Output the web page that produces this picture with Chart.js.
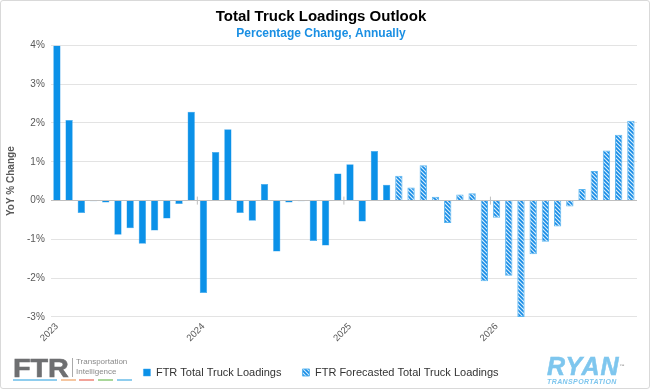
<!DOCTYPE html>
<html>
<head>
<meta charset="utf-8">
<script src="https://cdn.jsdelivr.net/npm/chart.js@4"></script>
<style>
  body { margin: 0; background: #fff; font-family: "Liberation Sans", Arial, sans-serif; }
  #wrap { position: relative; width: 648px; height: 387px; border: 1px solid #d9d9d9; border-radius: 3px; }
  #chart { position: absolute; left: 0; top: 0; }
  .ftr { position: absolute; left: 12px; top: 354px; }
  .ftr .big { position: absolute; left: 0; top: -1px; font: 900 25px "Liberation Sans", Arial, sans-serif; color: #6e6f71; transform: scaleX(1.15); transform-origin: left; -webkit-text-stroke: 0.6px #6e6f71; }
  .ftr .sep { position: absolute; left: 59px; top: 3px; width: 1px; height: 19px; background: #aaa; }
  .ftr .small { position: absolute; left: 63px; top: 2px; font: 8px "Liberation Sans", Arial, sans-serif; color: #8a8a8a; line-height: 10px; white-space: nowrap; }
  .ftr .bar { position: absolute; top: 24px; height: 2px; }
  .ryan { position: absolute; left: 546px; top: 353px; color: #7ec6ee; }
  .ryan .big { font: italic 900 25px "Liberation Sans", Arial, sans-serif; letter-spacing: 1px; line-height: 24px; -webkit-text-stroke: 0.5px #7ec6ee; }
  .ryan .small { font: italic bold 7px "Liberation Sans", Arial, sans-serif; letter-spacing: 0.4px; }
  .ryan sup { font-size: 5px; vertical-align: top; color: #999; -webkit-text-stroke: 0; }
</style>
</head>
<body>
<div id="wrap">
  <canvas id="chart" width="648" height="387"></canvas>
  <div class="ftr">
    <div class="big">FTR</div>
    <div class="sep"></div>
    <div class="small">Transportation<br>Intelligence</div>
    <div class="bar" style="left:0;width:44px;background:#8fcdee"></div>
    <div class="bar" style="left:48px;width:15px;background:#f5c6a0"></div>
    <div class="bar" style="left:66px;width:15px;background:#f2a39a"></div>
    <div class="bar" style="left:85px;width:15px;background:#a9d79a"></div>
    <div class="bar" style="left:104px;width:15px;background:#8fcdee"></div>
  </div>
  <div class="ryan">
    <div class="big">RYAN<sup>™</sup></div>
    <div class="small">TRANSPORTATION</div>
  </div>
</div>
<script>
// Data
const years = ['2023', '2024', '2025', '2026'];
const months = [];
years.forEach(y => { for (let m = 1; m <= 12; m++) months.push(y + '-' + m); });

const actual = [
  4.0, 2.08, -0.32, -0.02, -0.05, -0.88, -0.71, -1.11, -0.77, -0.46, -0.09, 2.29,
  -2.38, 1.25, 1.84, -0.32, -0.52, 0.43, -1.31, -0.05, -0.02, -1.04, -1.16, 0.70,
  0.94, -0.54, 1.28, 0.41
];
const forecast = [
  0.64, 0.34, 0.91, 0.10, -0.58, 0.16, 0.19, -2.08,
  -0.44, -1.94, -3.0, -1.38, -1.06, -0.67, -0.15, 0.30, 0.76, 1.29, 1.70, 2.06
];
const yTicks = [-3, -2, -1, 0, 1, 2, 3, 4];

const actualSeries = months.map((m, i) => i < actual.length ? actual[i] : null);
const forecastSeries = months.map((m, i) => i >= actual.length ? forecast[i - actual.length] : null);

// Hatch pattern for forecast bars
function hatch() {
  const c = document.createElement('canvas');
  c.width = 4; c.height = 4;
  const g = c.getContext('2d');
  g.fillStyle = '#d6ecfc';
  g.fillRect(0, 0, 4, 4);
  g.strokeStyle = '#168ce6';
  g.lineWidth = 1.6;
  g.beginPath();
  g.moveTo(-1, -1); g.lineTo(5, 5);
  g.moveTo(-1, 3); g.lineTo(1, 5);
  g.moveTo(3, -1); g.lineTo(5, 1);
  g.stroke();
  return g.createPattern(c, 'repeat');
}
const pattern = hatch();

// small tick marks on the zero line at year boundaries
const zeroTicks = {
  id: 'zeroTicks',
  afterDatasetsDraw(chart) {
    const { ctx, scales: { x, y } } = chart;
    const y0 = y.getPixelForValue(0);
    ctx.save();
    ctx.strokeStyle = '#bfbfbf';
    ctx.lineWidth = 1;
    for (let i = 12; i < months.length; i += 12) {
      const px = (x.getPixelForValue(i - 1) + x.getPixelForValue(i)) / 2;
      ctx.beginPath();
      ctx.moveTo(px, y0 - 4);
      ctx.lineTo(px, y0 + 4);
      ctx.stroke();
    }
    ctx.restore();
  }
};

new Chart(document.getElementById('chart'), {
  type: 'bar',
  data: {
    labels: months,
    datasets: [{
      label: 'FTR Total Truck Loadings',
      data: actualSeries,
      backgroundColor: '#0b91e8',
      borderColor: '#3aa4ec',
      borderWidth: 0.5,
      barPercentage: 0.6,
      categoryPercentage: 1,
      grouped: false
    }, {
      label: 'FTR Forecasted Total Truck Loadings',
      data: forecastSeries,
      backgroundColor: pattern,
      borderColor: '#5cb6f0',
      borderWidth: 1,
      barPercentage: 0.6,
      categoryPercentage: 1,
      grouped: false
    }]
  },
  options: {
    responsive: false,
    animation: false,
    layout: { padding: { left: 4, right: 12, top: 3, bottom: 0 } },
    plugins: {
      title: {
        display: true,
        text: 'Total Truck Loadings Outlook',
        color: '#000',
        font: { family: 'Liberation Sans', size: 15, weight: 'bold' },
        padding: { top: 4, bottom: 0 }
      },
      subtitle: {
        display: true,
        text: 'Percentage Change, Annually',
        color: '#1a8fe3',
        font: { family: 'Liberation Sans', size: 12, weight: 'bold' },
        padding: { top: 0, bottom: 5 }
      },
      legend: {
        position: 'bottom',
        labels: {
          boxWidth: 7, boxHeight: 7,
          color: '#333',
          font: { family: 'Liberation Sans', size: 11 },
          padding: 21
        }
      },
      tooltip: { enabled: false }
    },
    scales: {
      x: {
        grid: { display: false },
        border: { display: false },
        afterFit: s => { s.height += 6; },
        ticks: {
          autoSkip: false,
          maxRotation: 45, minRotation: 45,
          color: '#595959',
          font: { family: 'Liberation Sans', size: 9.5 },
          padding: -4,
          callback: (v, i) => i % 12 === 0 ? years[i / 12] : ''
        }
      },
      y: {
        min: yTicks[0], max: yTicks[yTicks.length - 1],
        ticks: {
          stepSize: 1,
          color: '#595959',
          font: { family: 'Liberation Sans', size: 10 },
          padding: 6,
          callback: v => v + '%'
        },
        grid: {
          color: ctx => ctx.tick && ctx.tick.value === 0 ? '#bfbfbf' : '#e3e3e3',
          drawTicks: false
        },
        border: { display: false },
        title: {
          display: true,
          text: 'YoY % Change',
          color: '#595959',
          font: { family: 'Liberation Sans', size: 10, weight: 'bold' },
          padding: { top: 0, bottom: 4 }
        }
      }
    }
  },
  plugins: [zeroTicks]
});
</script>
</body>
</html>
